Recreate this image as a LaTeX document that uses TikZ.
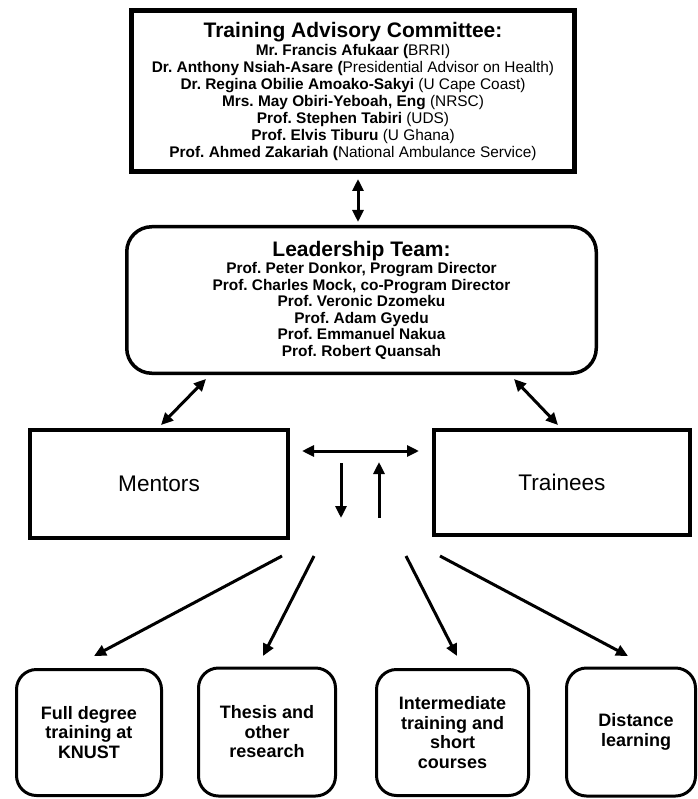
\documentclass[tikz,border=0pt]{standalone}
\usepackage{fontspec}
\setmainfont{Liberation Sans}
\usetikzlibrary{arrows.meta}
\frenchspacing
\tikzset{
  conn/.style={line width=3pt,{Triangle[length=12pt,width=11pt]}-{Triangle[length=12pt,width=11pt]}},
  oneway/.style={line width=3pt,-{Triangle[length=12pt,width=11pt]}},
  sqbox/.style={draw,line width=4.5pt,inner sep=0pt,align=center},
  rbox/.style={draw,line width=3pt,rounded corners=20pt,inner sep=0pt,align=center,
    font=\fontsize{18}{19.5}\selectfont\bfseries},
  bodyfont/.style={font=\fontsize{15.4}{17}\selectfont},
}
\begin{document}
\begin{tikzpicture}[x=1pt,y=-1pt]
\useasboundingbox (0,0) rectangle (697,799);
\node[sqbox,line width=5pt,minimum width=443pt,minimum height=161pt,bodyfont] (tac) at (353,91)
 {{\fontsize{21}{21}\selectfont\textbf{Training Advisory Committee:}}\\[1pt]
  \textbf{Mr. Francis Afukaar (}BRRI)\\
  \textbf{Dr. Anthony Nsiah-Asare (}Presidential Advisor on Health)\\
  \textbf{Dr. Regina Obilie Amoako-Sakyi} (U Cape Coast)\\
  \textbf{Mrs. May Obiri-Yeboah, Eng} (NRSC)\\
  \textbf{Prof. Stephen Tabiri} (UDS)\\
  \textbf{Prof. Elvis Tiburu} (U Ghana)\\
  \textbf{Prof. Ahmed Zakariah (}National Ambulance Service)};
\node[draw,line width=3.5pt,rounded corners=25pt,inner sep=0pt,align=center,
  minimum width=469.5pt,minimum height=146.5pt,font=\fontsize{15.4}{16.5}\selectfont\bfseries] (lead) at (361.5,300)
 {{\fontsize{21}{21}\selectfont Leadership Team:}\\[1pt]
  Prof. Peter Donkor, Program Director\\
  Prof. Charles Mock, co-Program Director\\
  Prof. Veronic Dzomeku\\
  Prof. Adam Gyedu\\
  Prof. Emmanuel Nakua\\
  Prof. Robert Quansah};
\node[sqbox,minimum width=258pt,minimum height=108pt,font=\fontsize{22.6}{24}\selectfont] (mentors) at (159,484) {Mentors};
\node[sqbox,minimum width=256pt,minimum height=105pt,font=\fontsize{22.6}{24}\selectfont] (trainees) at (562,482.5) {Trainees};
\node[rbox,minimum width=145pt,minimum height=126pt] (b1) at (89,732.5) {Full degree\\training at\\KNUST};
\node[rbox,minimum width=137pt,minimum height=128pt] (b2) at (267,732) {Thesis and\\other\\research};
\node[rbox,minimum width=152pt,minimum height=126pt] (b3) at (452.5,732.5) {Intermediate\\training and\\short\\courses};
\node[rbox,minimum width=129pt,minimum height=128pt] (b4) at (631,732) {\hspace*{10pt}Distance\\\hspace*{10pt}learning};
% connector end points
\coordinate (tacS) at (358,179);
\coordinate (leadN) at (358,222);
\coordinate (leadSW) at (206,379);
\coordinate (mentN) at (161,425);
\coordinate (leadSE) at (514,379);
\coordinate (trainN) at (558,425);
\coordinate (midL) at (302,451);
\coordinate (midR) at (419,451);
\coordinate (dnS) at (341,463);
\coordinate (dnE) at (341,518);
\coordinate (upS) at (379,518);
\coordinate (upE) at (379,462);
\coordinate (f1) at (282,556);
\coordinate (f2) at (314,556);
\coordinate (f3) at (406,556);
\coordinate (f4) at (440,556);
\coordinate (t1) at (94,656);
\coordinate (t2) at (263,656);
\coordinate (t3) at (457,656);
\coordinate (t4) at (628,656);
\draw[conn] (tacS) -- (leadN);
\draw[conn] (leadSW) -- (mentN);
\draw[conn] (leadSE) -- (trainN);
\draw[conn] (midL) -- (midR);
\draw[oneway] (dnS) -- (dnE);
\draw[oneway] (upS) -- (upE);
\draw[oneway] (f1) -- (t1);
\draw[oneway] (f2) -- (t2);
\draw[oneway] (f3) -- (t3);
\draw[oneway] (f4) -- (t4);
\end{tikzpicture}
\end{document}
